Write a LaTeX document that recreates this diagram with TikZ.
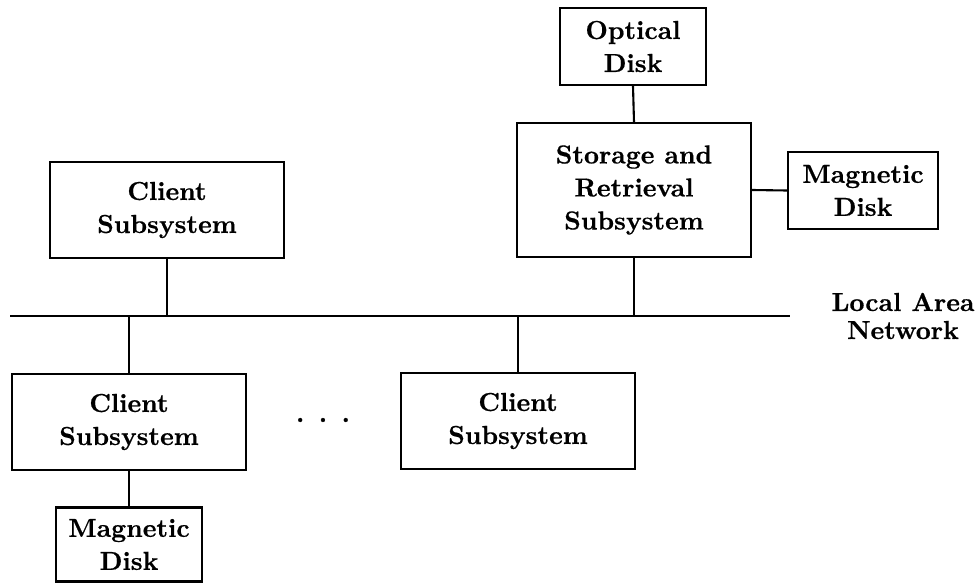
\documentclass[tikz,border=0pt]{standalone}
\usepackage{fontspec}
\newfontfamily\labelfont{lmroman10-bold.otf}[FakeBold=0.5]
\begin{document}
\begin{tikzpicture}[x=1pt,y=-1pt,
  every node/.style={font=\labelfont\fontsize{26}{33}\selectfont, align=center, inner sep=0pt},
  unit/.style={draw, line width=2.3pt},
  link/.style={line width=2.1pt},
  bus/.style={line width=2.6pt}]
\useasboundingbox (0,0) rectangle (977,583);

% storage side
\node[unit, minimum width=146, minimum height=77] (opt) at (633,46.5) {Optical\\Disk};
\node[unit, minimum width=234, minimum height=134] (sr) at (634,190) {Storage and\\Retrieval\\Subsystem};
\node[unit, minimum width=150, minimum height=77] (mdr) at (863,190.5) {Magnetic\\Disk};

% clients
\node[unit, minimum width=234, minimum height=96] (c1) at (167,210) {Client\\Subsystem};
\node[unit, minimum width=234, minimum height=96] (c2) at (129,422) {Client\\Subsystem};
\node[unit, minimum width=234, minimum height=96] (c3) at (518,421) {Client\\Subsystem};
\node[unit, minimum width=146, minimum height=74] (md2) at (129,544.5) {Magnetic\\Disk};
\node (dots) at (323,420) {.\hskip14.5pt.\hskip14.5pt.};

% network bus
\coordinate (lanL) at (10,316);
\coordinate (lanR) at (790,316);
\draw[bus] (lanL) -- (lanR);
\node[font=\labelfont\fontsize{26}{28}\selectfont] (lan) at (903,316) {Local Area\\Network};

% connections
\draw[link] (opt.south) -- (sr.north);
\draw[link] (sr.east) -- (mdr.west);
\draw[link] (c1.south) -- (c1.south |- lanL);
\draw[link] (sr.south) -- (sr.south |- lanL);
\draw[link] (c2.north |- lanL) -- (c2.north);
\draw[link] (c3.north |- lanL) -- (c3.north);
\draw[link] (c2.south) -- (md2.north);
\end{tikzpicture}
\end{document}
